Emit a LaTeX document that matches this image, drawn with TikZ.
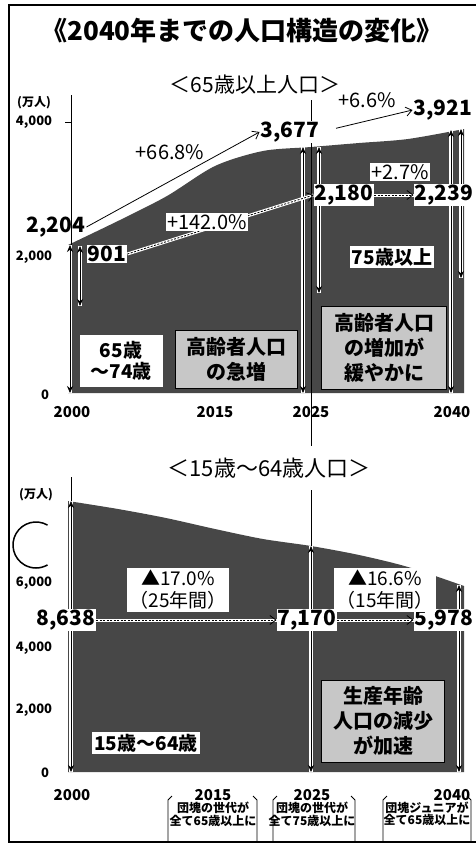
\documentclass[tikz,border=0pt]{standalone}
\usepackage{fontspec}
\setmainfont{Noto Sans CJK JP}
\usetikzlibrary{positioning,arrows.meta}

\begin{document}
\begin{tikzpicture}[x=1pt,y=-1pt,
   val/.style={font=\bfseries\fontsize{21}{23}\selectfont, inner sep=1pt},
   wval/.style={val, fill=white},
   pct/.style={font=\fontsize{20}{22}\selectfont, inner sep=1pt},
   wpct/.style={pct, fill=white},
   tag/.style={font=\bfseries\fontsize{19}{21}\selectfont, fill=white, align=center, inner sep=2pt},
   dtag/.style={tag, font=\fontsize{19}{22}\selectfont},
   ticklbl/.style={font=\bfseries\fontsize{13}{14}\selectfont, inner sep=0pt},
   yr/.style={font=\bfseries\fontsize{15}{16}\selectfont, inner sep=0pt},
   memo/.style={draw, thick, fill=black!22, font=\bfseries\fontsize{20}{25}\selectfont, align=center, inner sep=2pt},
   note/.style={font=\bfseries\fontsize{12}{12.5}\selectfont, align=center, inner sep=0pt},
   band/.style={fill=black!72},
   halo/.style={white, line width=3.5pt},
   vspan/.style={{Stealth[length=7pt,width=6pt]}-{Stealth[length=7pt,width=6pt]}, thick},
   trend/.style={-{Straight Barb[length=6pt,width=9pt]}, thick},
   dtrend/.style={trend, dash pattern=on 2pt off 1.5pt}]

   % frame and headings
   \useasboundingbox (0,0) rectangle (475,844);
   \draw[line width=2.2pt] (9,5) rectangle (482,842);
   \node[font=\bfseries\fontsize{26}{28}\selectfont] (title) at (242,31) {《2040年までの人口構造の変化》};
   \node[font=\fontsize{21}{23}\selectfont] (head65) at (255,85) {＜65歳以上人口＞};

   % population areas
   \fill[band] (68,393) -- plot[smooth] coordinates {(68,245) (120,220) (167,196) (215,166) (263,151) (311,147) (359,143) (408,139) (464,129)} -- (464,393) -- cycle;
   \fill[band] (68,772) -- plot[smooth] coordinates {(68,501) (118,509) (166,518) (215,529) (263,539) (311,546) (359,555) (408,567) (464,586)} -- (464,772) -- cycle;

   \node[memo, minimum width=122pt, minimum height=58pt] (rapid) at (236,359) {高齢者人口\\の急増};
   \node[memo, minimum width=125pt, minimum height=83pt] (slow) at (384,348) {高齢者人口\\の増加が\\緩やかに};
   \node[memo, minimum width=123pt, minimum height=82pt] (accel) at (383,721) {生産年齢\\人口の減少\\が加速};

   % axes and the 2025 line
   \draw (71,95) -- (71,245);
   \draw (65,122) -- (71,122);
   \draw (71,477) -- (71,501);
   \draw (311,100) -- (311,548);
   \node[font=\fontsize{22}{24}\selectfont, fill=white, inner xsep=2pt, inner ysep=12pt] (head1564) at (269,468) {＜15歳～64歳人口＞};

   \coordinate (t00) at (70,245);  \coordinate (b00) at (70,393);
   \coordinate (s00) at (80,246);  \coordinate (m00) at (80,306);
   \coordinate (t25) at (303,147); \coordinate (b25) at (303,393);
   \coordinate (s25) at (319,147); \coordinate (m25) at (319,293);
   \coordinate (t40) at (451,130); \coordinate (b40) at (451,393);
   \coordinate (s40) at (461,129); \coordinate (m40) at (461,278);
   \coordinate (u00) at (71,501);  \coordinate (w00) at (71,772);
   \coordinate (u25) at (311,546); \coordinate (w25) at (311,772);
   \coordinate (u40) at (459,585); \coordinate (w40) at (459,772);

   \foreach \p/\q in {t00/b00, s00/m00, t25/b25, s25/m25, t40/b40, s40/m40, u00/w00, u25/w25, u40/w40} {
      \draw[halo] (\p) -- (\q);
      \draw[vspan] (\p) -- (\q);
   }

   % values
   \node[val] (v2204) at (56,227) {2,204};
   \node[wval] (v3677) at (290,132) {3,677};
   \node[val] (v3921) at (443,110) {3,921};
   \node[wval] (v901) at (107,254) {901};
   \node[wval] (v2180) at (344,195) {2,180};
   \node[wval] (v2239) at (444,195) {2,239};
   \node[wval] (v8638) at (66,620) {8,638};
   \node[wval] (v7170) at (307,620) {7,170};
   \node[wval] (v5978) at (444,620) {5,978};

   \draw[trend] (v2204.east) -- (v3677.west);
   \draw[trend, shorten <=16pt] (v3677.east) -- (v3921.west);
   \foreach \a/\b in {v901/v2180, v2180/v2239, v8638/v7170, v7170/v5978} {
      \draw[halo, line width=3pt] (\a.east) -- (\b.west);
      \draw[dtrend] (\a.east) -- (\b.west);
   }

   \node[pct] (p668) at (170,152) {+66.8\%};
   \node[pct] (p66) at (367,100) {+6.6\%};
   \node[wpct] (p142) at (207,222) {+142.0\%};
   \node[wpct] (p27) at (400,172) {+2.7\%};
   \node[dtag] (d170) at (178,590) {▲17.0\%\\（25年間）};
   \node[dtag] (d166) at (385,590) {▲16.6\%\\（15年間）};

   \node[tag, minimum width=83pt, minimum height=52pt] (a6574) at (121,361) {65歳\\～74歳};
   \node[tag] (a75) at (392,257) {75歳以上};
   \node[tag] (a1564) at (146,743) {15歳～64歳};

   % scale labels
   \node[ticklbl, font=\bfseries\fontsize{12}{13}\selectfont] (unit65) at (34,103) {(万人)};
   \node[ticklbl] (y4k) at (34,122) {4,000};
   \node[ticklbl] (y2k) at (34,257) {2,000};
   \node[ticklbl] (y0) at (45,395) {0};
   \node[ticklbl, font=\bfseries\fontsize{12}{13}\selectfont] (unit1564) at (36,495) {(万人)};
   \node[ticklbl] (y6kb) at (34,583) {6,000};
   \node[ticklbl] (y4kb) at (34,648) {4,000};
   \node[ticklbl] (y2kb) at (34,710) {2,000};
   \node[ticklbl] (y0b) at (45,773) {0};

   \node[yr] (yr00) at (72,412) {2000};
   \node[yr] (yr15) at (215,412) {2015};
   \node[yr] (yr25) at (311,412) {2025};
   \node[yr] (yr40) at (452,412) {2040};
   \node[yr] (yb00) at (72,795) {2000};
   \node[yr] (yb15) at (213,795) {2015};
   \node[yr] (yb25) at (312,795) {2025};
   \node[yr] (yb40) at (452,795) {2040};

   \node[note, below=1pt of yb15] (n15) {団塊の世代が\\全て65歳以上に};
   \node[note, below=1pt of yb25] (n25) {団塊の世代が\\全て75歳以上に};
   \node[note] (n40) at (427,814) {団塊ジュニアが\\全て65歳以上に};

   \foreach \l/\r in {168/257, 273/355, 383/471} {
      \draw[thick] (\l+4,796) -- (\l,800) -- (\l,842);
      \draw[thick] (\r-4,796) -- (\r,800) -- (\r,842);
   }

   % punch hole mark
   \draw[line width=1.5pt] (36,545) ++(60:23pt) arc[start angle=60, end angle=300, radius=23pt];
\end{tikzpicture}
\end{document}
